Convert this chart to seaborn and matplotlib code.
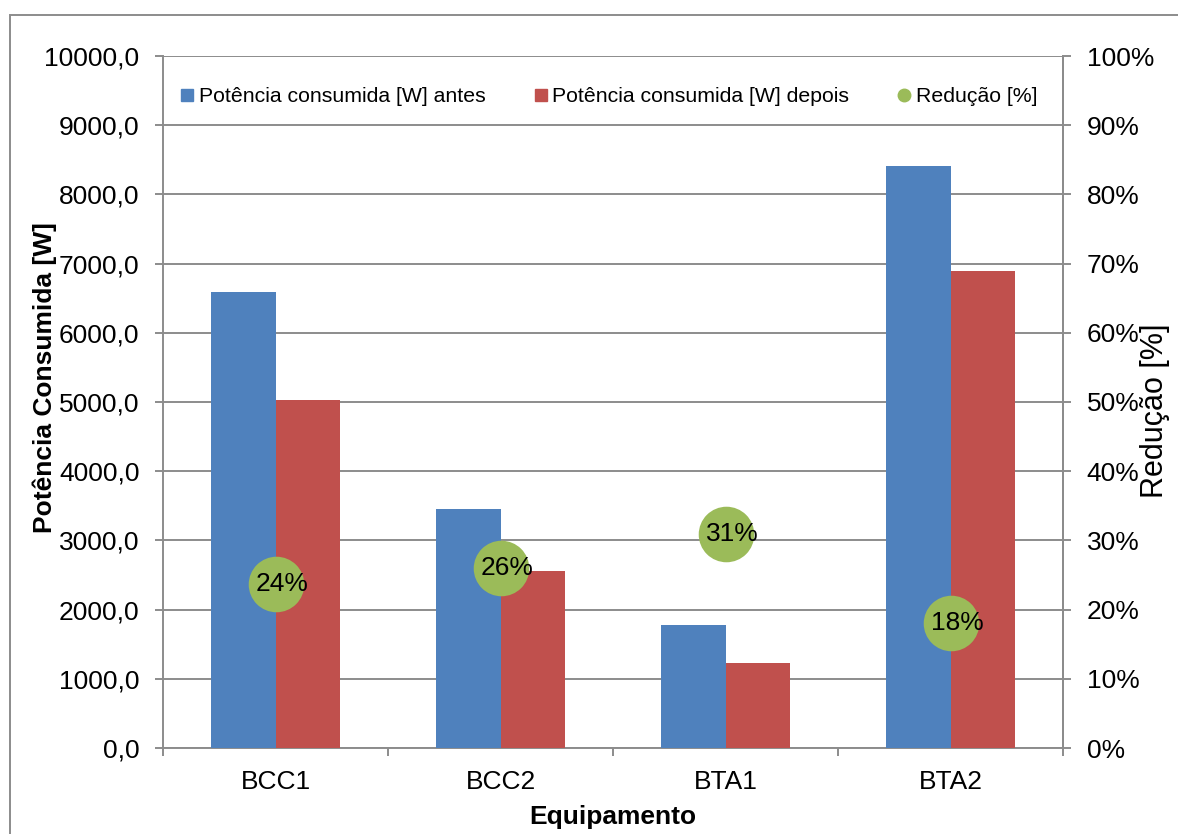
import numpy as np
import pandas as pd
import matplotlib
matplotlib.use("Agg")
import matplotlib.pyplot as plt
from matplotlib.lines import Line2D
from matplotlib.patches import Rectangle
from matplotlib.ticker import FuncFormatter, MultipleLocator, FixedLocator
import seaborn as sns

# Dados
equipamentos = ["BCC1", "BCC2", "BTA1", "BTA2"]
potencia_antes = [6590, 3450, 1780, 8415]
potencia_depois = [5025, 2552, 1230, 6890]
serie_antes = "Potência consumida [W] antes"
serie_depois = "Potência consumida [W] depois"
serie_reducao = "Redução [%]"

reducao = [1 - d / a for a, d in zip(potencia_antes, potencia_depois)]

cor_antes = "#4F81BD"
cor_depois = "#C0504D"
cor_reducao = "#9BBB59"
cinza = "#8C8C8C"

df = pd.DataFrame({
    "Equipamento": equipamentos * 2,
    "Serie": [serie_antes] * len(equipamentos) + [serie_depois] * len(equipamentos),
    "Potencia": potencia_antes + potencia_depois,
})

sns.set_theme(style="white")
plt.rcParams["font.family"] = ["Liberation Sans", "DejaVu Sans"]
plt.rcParams["text.color"] = "black"
plt.rcParams["axes.labelcolor"] = "black"
plt.rcParams["xtick.color"] = "black"
plt.rcParams["ytick.color"] = "black"

W, H = 1178, 834
fig = plt.figure(figsize=(W / 100, H / 100), dpi=100)
ax = fig.add_axes([163 / W, 1 - 748 / H, (1063 - 163) / W, (748 - 56) / H])

sns.barplot(data=df, x="Equipamento", y="Potencia", hue="Serie",
            order=equipamentos, hue_order=[serie_antes, serie_depois],
            palette=[cor_antes, cor_depois], width=0.57, gap=0,
            saturation=1, linewidth=0, legend=False, ax=ax, zorder=3)

ax.set_xlim(-0.5, len(equipamentos) - 0.5)
ax.set_ylim(0, 10000)
ax.yaxis.set_major_locator(MultipleLocator(1000))
ax.yaxis.set_major_formatter(FuncFormatter(lambda v, p: f"{v:.1f}".replace(".", ",")))
ax.grid(axis="y", color=cinza, linewidth=1.4, zorder=0)
ax.grid(axis="x", visible=False)
ax.set_axisbelow(True)

ax.spines["top"].set_visible(False)
for side in ["left", "right", "bottom"]:
    ax.spines[side].set_color(cinza)
    ax.spines[side].set_linewidth(1.4)

ax.tick_params(axis="y", which="major", direction="out", length=6, width=1.4,
               color=cinza, pad=11, labelsize=19, labelcolor="black", left=True)
ax.tick_params(axis="x", which="major", length=0, pad=16, labelsize=19,
               labelcolor="black")
ax.xaxis.set_minor_locator(FixedLocator(np.arange(-0.5, len(equipamentos), 1.0)))
ax.tick_params(axis="x", which="minor", direction="out", length=6, width=1.4,
               color=cinza, bottom=True)

ax.set_xlabel("Equipamento", fontsize=19, fontweight="bold", labelpad=8,
              color="black")
ax.set_ylabel("Potência Consumida [W]", fontsize=19, fontweight="bold",
              color="black")
ax.yaxis.set_label_coords(-0.118, 0.535)

# Eixo secundário: redução percentual
ax2 = ax.twinx()
x_pos = np.arange(len(equipamentos))
sns.scatterplot(x=x_pos, y=reducao, s=1600, color=cor_reducao, linewidth=0,
                legend=False, ax=ax2, zorder=4)
for xi, r in zip(x_pos, reducao):
    ax2.annotate(f"{r:.0%}", (xi, r), xytext=(5, 0), textcoords="offset points",
                 ha="center", va="center", fontsize=19, color="black", zorder=5)

ax2.set_ylim(0, 1)
ax2.set_xlim(-0.5, len(equipamentos) - 0.5)
ax2.yaxis.set_major_locator(MultipleLocator(0.1))
ax2.yaxis.set_major_formatter(FuncFormatter(lambda v, p: f"{round(v * 100)}%"))
ax2.tick_params(axis="y", direction="out", length=6, width=1.4, color=cinza,
                pad=11, labelsize=19, labelcolor="black", right=True)
for side in ["top", "left", "bottom"]:
    ax2.spines[side].set_visible(False)
ax2.spines["right"].set_color(cinza)
ax2.spines["right"].set_linewidth(1.4)
ax2.set_ylabel("Redução [%]", fontsize=22, color="black")
ax2.yaxis.set_label_coords(1.0856, 0.488)
ax2.grid(False)

# Legenda
handles = [
    Line2D([], [], linestyle="none", marker="s", markersize=8, color=cor_antes),
    Line2D([], [], linestyle="none", marker="s", markersize=8, color=cor_depois),
    Line2D([], [], linestyle="none", marker="o", markersize=9, color=cor_reducao),
]
ax2.legend(handles, [serie_antes, serie_depois, serie_reducao], ncol=3,
           loc="center", bbox_to_anchor=(0.4956, 0.941), frameon=False,
           fontsize=15.3, handlelength=0.6, handletextpad=0.25,
           columnspacing=2.3, borderaxespad=0, labelcolor="black")

# Moldura do gráfico
fig.patches.append(Rectangle((9.5 / W, -0.05), 1.1, 1 - 14.5 / H + 0.05,
                             transform=fig.transFigure, fill=False,
                             edgecolor=cinza, linewidth=1.4))

fig.savefig("out.png", dpi=100)
